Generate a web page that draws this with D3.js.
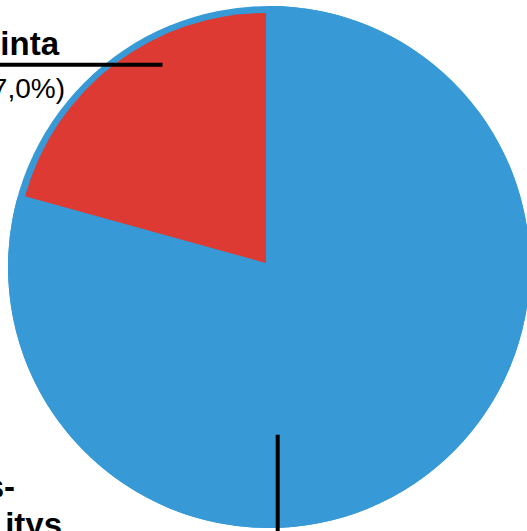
<!DOCTYPE html>
<html>
<head>
<meta charset="utf-8">
<script src="https://cdn.jsdelivr.net/npm/d3@7/dist/d3.min.js"></script>
<style>
  html, body { margin: 0; padding: 0; background: #ffffff; }
  svg { display: block; }
</style>
</head>
<body>
<script>
// ---- data ----
const categories = ["blue", "red"];
const values = [79.3, 20.7];
const colors = ["#3799d6", "#dc3a33"];
const labelTop = ["inta", "7,0%)"];
const labelBottom = ["s-", "itys"];

const W = 527, H = 531;
const cx = 269, cy = 267;
const R = 261;          // outer (blue) radius
const Rred = 250;       // red slice radius
const explode = 5;

const svg = d3.select("body").append("svg")
  .attr("width", W).attr("height", H);

const pie = d3.pie().sort(null).value(d => d)(values);

const g = svg.append("g").attr("transform", `translate(${cx},${cy})`);

// full background disc in blue (rim)
g.append("path")
  .attr("d", d3.arc().innerRadius(0).outerRadius(R)({startAngle: 0, endAngle: 2 * Math.PI}))
  .attr("fill", colors[0]);

pie.forEach((p, i) => {
  const mid = (p.startAngle + p.endAngle) / 2;
  const off = i === 1 ? explode : 0;
  const dx = Math.sin(mid) * off, dy = -Math.cos(mid) * off;
  g.append("path")
    .attr("transform", `translate(${dx},${dy})`)
    .attr("d", d3.arc().innerRadius(0).outerRadius(i === 1 ? Rred : R)(p))
    .attr("fill", colors[i]);
});

// labels
const font = "'Liberation Sans', Arial, Helvetica, sans-serif";
svg.append("text").text(labelTop[0])
  .attr("x", 59).attr("y", 55).attr("text-anchor", "end")
  .attr("font-family", font).attr("font-weight", "bold").attr("font-size", 33)
  .attr("fill", "#000");
svg.append("line")
  .attr("x1", 0).attr("x2", 162.5).attr("y1", 64.7).attr("y2", 64.7)
  .attr("stroke", "#000").attr("stroke-width", 4);
svg.append("text").text(labelTop[1])
  .attr("x", 65).attr("y", 98).attr("text-anchor", "end")
  .attr("font-family", font).attr("font-size", 28)
  .attr("fill", "#000");

svg.append("text").text(labelBottom[0])
  .attr("x", 15).attr("y", 498).attr("text-anchor", "end")
  .attr("font-family", font).attr("font-weight", "bold").attr("font-size", 33)
  .attr("fill", "#000");
svg.append("text").text(labelBottom[1])
  .attr("x", 62).attr("y", 536).attr("text-anchor", "end")
  .attr("font-family", font).attr("font-weight", "bold").attr("font-size", 33)
  .attr("fill", "#000");
svg.append("line")
  .attr("x1", 277.7).attr("x2", 277.7).attr("y1", 434.7).attr("y2", 531)
  .attr("stroke", "#000").attr("stroke-width", 4);
</script>
</body>
</html>
